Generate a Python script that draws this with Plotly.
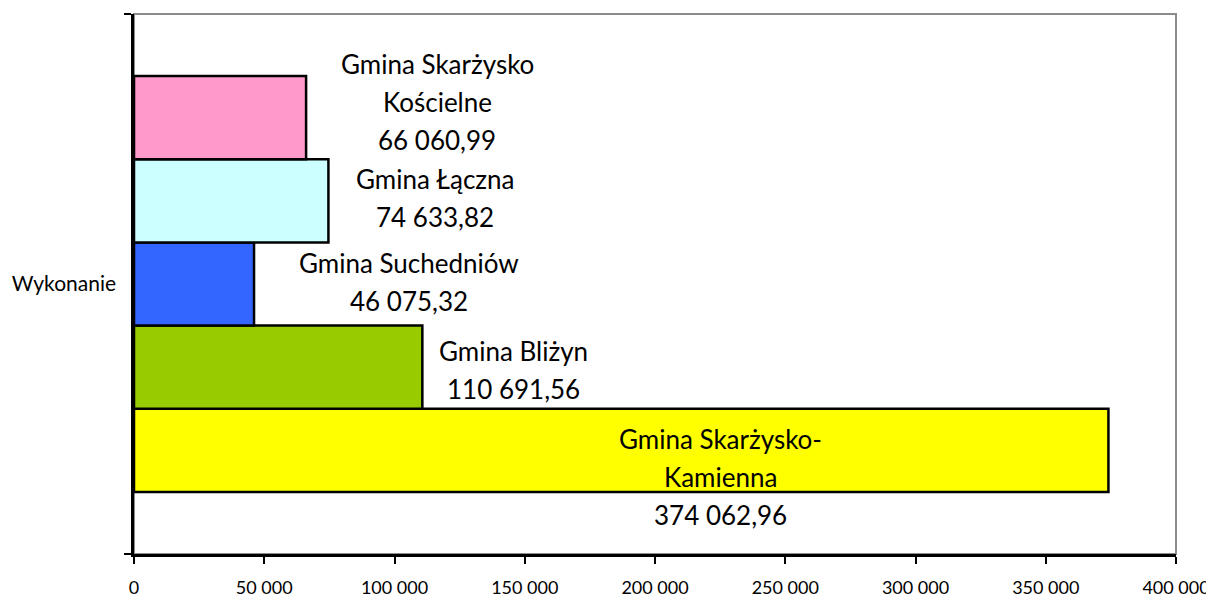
import plotly.graph_objects as go

# ---- data ----
category = ["Wykonanie"]
series_names = [
    "Gmina Skarżysko-Kamienna",
    "Gmina Bliżyn",
    "Gmina Suchedniów",
    "Gmina Łączna",
    "Gmina Skarżysko Kościelne",
]
label_names = [
    "Gmina Skarżysko-<br>Kamienna",
    "Gmina Bliżyn",
    "Gmina Suchedniów",
    "Gmina Łączna",
    "Gmina Skarżysko<br>Kościelne",
]
values = [374062.96, 110691.56, 46075.32, 74633.82, 66060.99]
x_ticks = [0, 50000, 100000, 150000, 200000, 250000, 300000, 350000, 400000]

# ---- styles ----
colors = ["#FFFF00", "#99CC00", "#3366FF", "#CCFFFF", "#FF99CC"]
FONT = "Lato"
bargap = 0.23
# label centre offsets (x in data units from bar end, y in pixels)
label_dx = [-149111, 34797, 59491, 40913, 50254]
label_dy = [-26.5, -3, 2.5, 2.5, 15.5]
line_step = 38
PAGE_OFFSET = 8  # default body margin of the html page


def pl(v):
    return f"{v:,.2f}".replace(",", " ").replace(".", ",")


fig = go.Figure()
for name, v, c in zip(series_names, values, colors):
    fig.add_trace(go.Bar(
        y=category, x=[v], name=name, orientation="h",
        marker=dict(color=c, line=dict(color="black", width=2.5)),
        hoverinfo="skip",
    ))

n = len(values)
w = (1 - bargap) / n
annotations = []
for i, (lab, v) in enumerate(zip(label_names, values)):
    yc = -0.5 + bargap / 2 + w * (i + 0.5)
    lines = lab.split("<br>") + [pl(v)]
    nl = len(lines)
    for j, line in enumerate(lines):
        annotations.append(dict(
            x=v + label_dx[i], y=yc, xref="x", yref="y",
            text=line, showarrow=False,
            xanchor="center", yanchor="middle", align="center",
            yshift=label_dy[i] - (j - (nl - 1) / 2) * line_step,
            font=dict(family=FONT, size=26, color="black"),
        ))

fig.update_layout(
    width=1214 - PAGE_OFFSET, height=597 - PAGE_OFFSET,
    margin=dict(l=134 - PAGE_OFFSET, r=38, t=14 - PAGE_OFFSET, b=43, autoexpand=False),
    paper_bgcolor="white", plot_bgcolor="white",
    barmode="group", bargap=bargap, bargroupgap=0,
    showlegend=False,
    separators=", ",
    font=dict(family=FONT, size=20, color="black"),
    annotations=annotations,
    shapes=[dict(type="rect", xref="paper", yref="paper", x0=0, x1=1, y0=0, y1=1,
                 line=dict(color="#8c8c8c", width=2), layer="below")],
)
fig.update_xaxes(
    range=[0, 400000], tickvals=x_ticks, tickformat=",.0f",
    showgrid=False, zeroline=False, automargin=False,
    showline=True, linecolor="black", linewidth=2.5,
    ticks="outside", ticklen=7, tickwidth=2, tickcolor="black",
    ticklabelstandoff=9,
    tickfont=dict(family=FONT, size=18),
)
fig.update_yaxes(
    range=[-0.5, 0.5], type="category", tickson="boundaries",
    showgrid=False, zeroline=False, automargin=False,
    showline=True, linecolor="black", linewidth=2.5,
    ticks="outside", ticklen=7, tickwidth=2, tickcolor="black",
    ticklabelstandoff=11,
    tickfont=dict(family=FONT, size=21),
)

fig.write_html("out.html")
